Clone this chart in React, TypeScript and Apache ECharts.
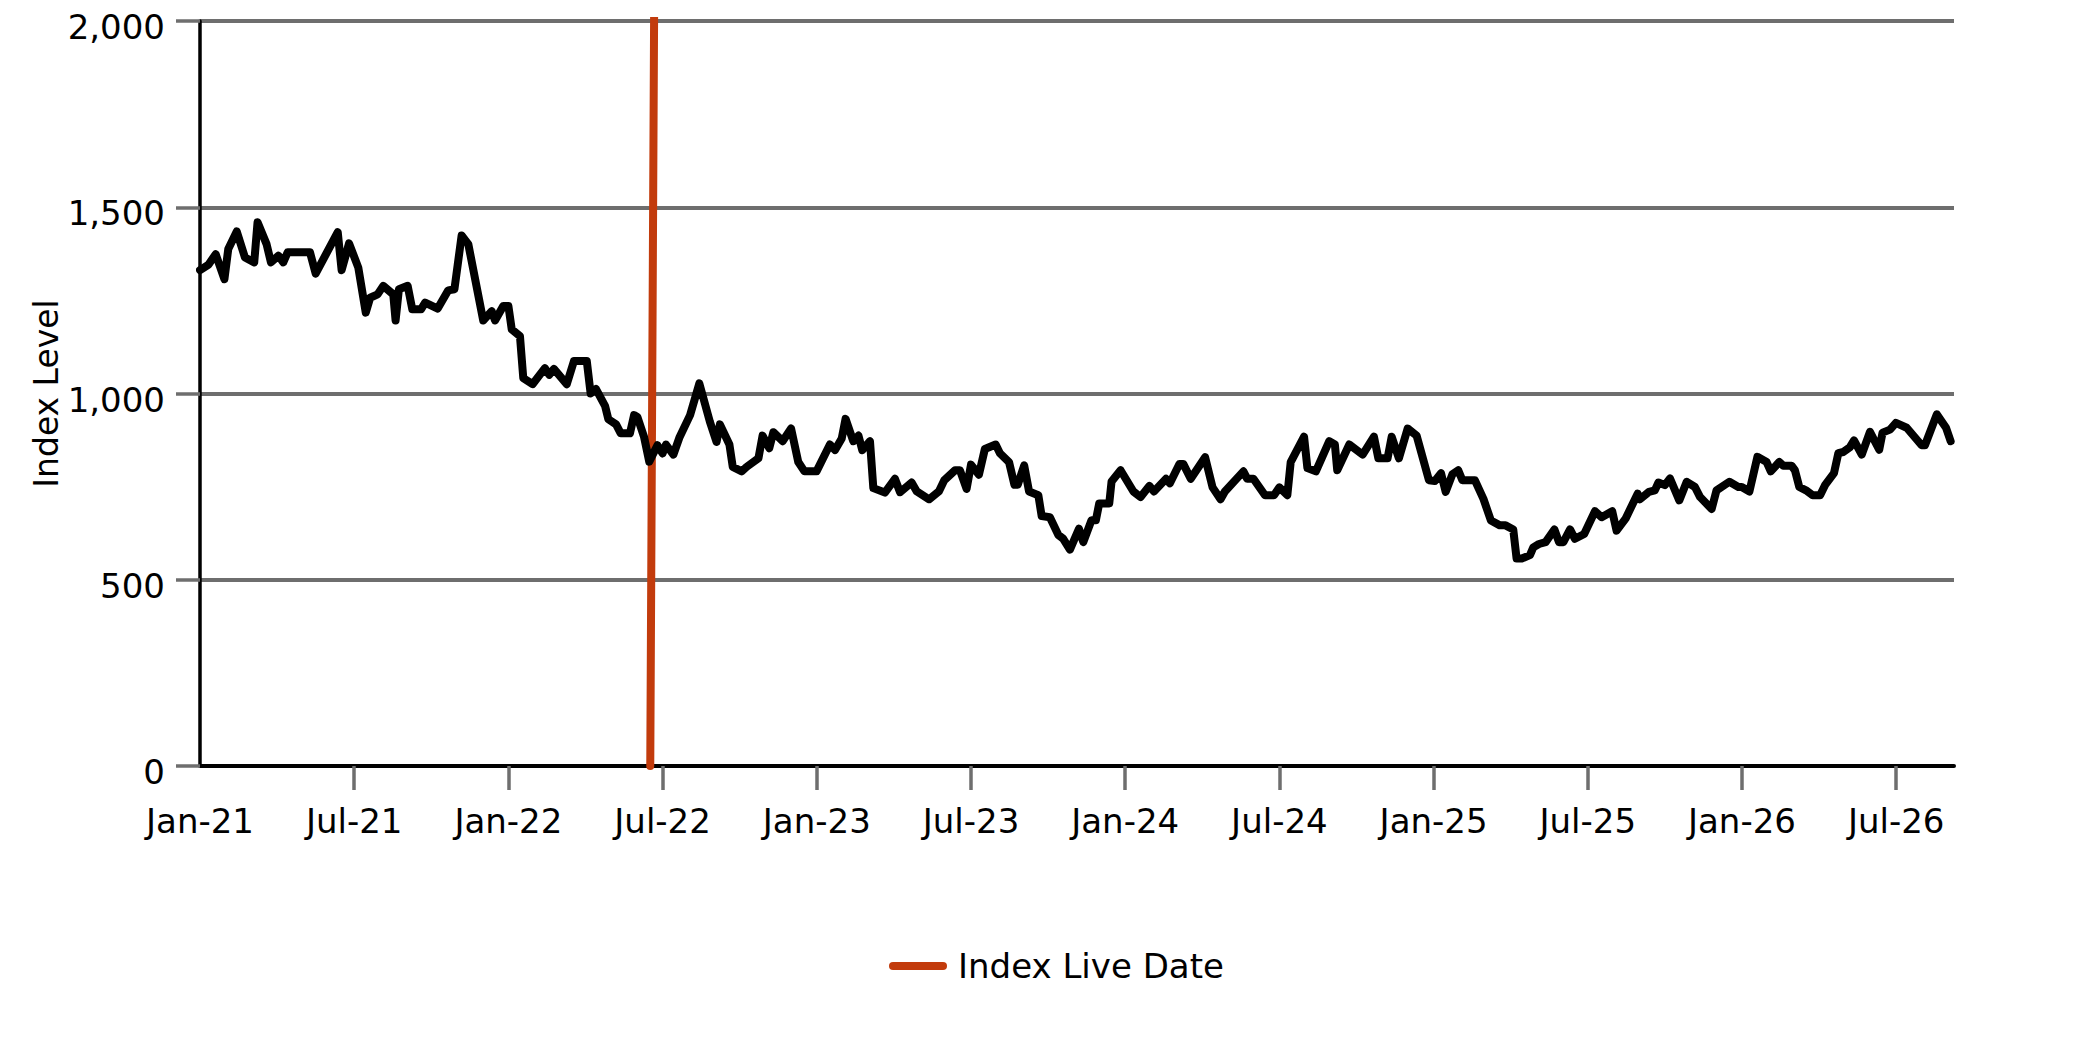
import React, { useEffect, useRef } from 'react';
import * as echarts from 'echarts';

// Months elapsed since Jan 2021 for each index observation
const indexMonths = [
  0.0, 0.32, 0.61, 0.95, 1.10, 1.43, 1.75, 2.11, 2.24, 2.59, 2.76, 3.05, 3.24, 3.41, 4.28, 4.50, 5.36, 5.51, 5.80, 6.16,
  6.45, 6.62, 6.91, 7.13, 7.52, 7.61, 7.74, 8.08, 8.26, 8.60, 8.76, 9.25, 9.66, 9.90, 10.18, 10.44, 11.02, 11.35,
  11.48, 11.80, 12.00, 12.13, 12.45, 12.58, 12.94, 13.42, 13.59, 13.77, 14.27, 14.55, 15.05, 15.20, 15.41, 15.76, 15.89,
  16.19, 16.37, 16.73, 16.89, 17.02, 17.28, 17.48, 17.80, 18.00, 18.13, 18.42, 18.65, 19.07, 19.43, 19.84, 20.10, 20.23,
  20.60, 20.73, 21.08, 21.27, 21.73, 21.89, 22.15, 22.31, 22.67, 23.00,
  23.28, 23.52, 23.99, 24.51, 24.71, 24.97, 25.12, 25.42, 25.62, 25.77, 26.07, 26.20, 26.65, 27.04, 27.24, 27.69, 27.89,
  28.37, 28.75, 28.96, 29.38, 29.57, 29.83, 30.00, 30.31, 30.54, 30.96, 31.13, 31.48, 31.69, 31.82, 32.07, 32.26, 32.62,
  32.75, 33.07, 33.40, 33.59, 33.85, 34.20, 34.37,
  34.69, 34.86, 34.99, 35.38, 35.47, 35.82, 36.32, 36.60, 36.94, 37.12, 37.59, 37.74, 38.11, 38.26, 38.55, 39.11, 39.40,
  39.71, 39.88, 40.60, 40.75, 40.99, 41.44, 41.79, 42.00, 42.31, 42.44, 42.96, 43.09, 43.42, 43.94, 44.16, 44.25, 44.72,
  45.24, 45.68, 45.85,
  46.21, 46.37, 46.65, 46.99, 47.34, 47.82, 48.05, 48.29, 48.47, 48.73, 48.96, 49.12, 49.61, 49.94, 50.23, 50.58, 50.80,
  51.10, 51.23, 51.43, 51.75, 51.88, 52.10, 52.36, 52.70, 52.88, 53.05, 53.31, 53.50, 53.86, 54.28, 54.54, 54.95, 55.12,
  55.47, 55.94, 56.03, 56.38, 56.61, 56.75, 57.00, 57.20,
  57.56, 57.85, 58.17, 58.37, 58.82, 59.01, 59.51, 59.86, 59.99, 60.29, 60.60, 60.96, 61.12, 61.45, 61.61, 61.93, 62.06,
  62.23, 62.49, 62.75, 63.04, 63.23, 63.58, 63.75, 63.94, 64.20, 64.36, 64.66, 64.98, 65.34, 65.47, 65.76, 65.99, 66.41,
  66.99, 67.12, 67.58, 67.94, 68.12,
];

const indexLevels = [
  1331, 1345, 1374, 1307, 1388, 1435, 1365, 1352, 1460, 1401, 1352, 1370, 1352, 1379, 1379, 1322, 1433, 1331, 1403, 1338,
  1217, 1257, 1266, 1289, 1266, 1196, 1280, 1289, 1226, 1226, 1244, 1228, 1277, 1280, 1424, 1401, 1196, 1221,
  1196, 1235, 1235, 1172, 1154, 1041, 1025, 1068, 1050, 1066, 1025, 1087, 1087, 1000, 1012, 967, 931,
  917, 893, 893, 942, 937, 883, 817, 861, 839, 863, 836, 881, 942, 1027, 924, 870, 917,
  863, 803, 791, 803, 826, 887, 853, 896, 872, 906,
  816, 791, 791, 863, 848, 879, 932, 872, 887, 848, 872, 746, 734, 771, 735, 761, 737,
  716, 737, 767, 794, 794, 744, 809, 782, 851, 863, 839, 816, 755, 755, 807, 737, 727,
  671, 668, 620, 610, 581, 637, 601,
  660, 660, 705, 705, 764, 794, 737, 722, 752, 737, 771, 759, 811, 811, 771, 829, 748,
  716, 737, 791, 771, 771, 727, 727, 748, 727, 816, 884, 800, 791, 872, 863, 794, 863,
  836, 884, 826,
  826, 884, 826, 906, 887, 767, 765, 786, 736, 783, 794, 767, 767, 717, 659, 646, 646,
  635, 557, 557, 566, 587, 596, 601, 635, 601, 601, 635, 610, 623, 684, 668, 684, 632,
  664, 731, 716, 736, 740, 761, 754, 772,
  713, 763, 749, 722, 690, 740, 763, 749, 749, 737, 830, 816, 791, 816, 806, 806, 794,
  749, 740, 727, 727, 754, 786, 840, 843, 856, 874, 836, 897, 849, 895, 903, 921, 908,
  861, 861, 944, 908, 872,
];

// Index live date marker line (months since Jan 2021, index level)
const liveDateMonths = [17.52, 17.67];
const liveDateLevels = [0, 2018];

const xTickValues = [0, 6, 12, 18, 24, 30, 36, 42, 48, 54, 60, 66];
const xTickLabels = ['Jan-21', 'Jul-21', 'Jan-22', 'Jul-22', 'Jan-23', 'Jul-23', 'Jan-24', 'Jul-24', 'Jan-25', 'Jul-25', 'Jan-26', 'Jul-26'];
const yTickLabels = ['0', '500', '1,000', '1,500', '2,000'];

const FONT = 'DejaVu Sans';
const ORANGE = '#C23B0C';
const GRID_GRAY = '#6e6e6e';

export default function App() {
  const ref = useRef<HTMLDivElement>(null);

  useEffect(() => {
    document.body.style.margin = '0';
    if (!ref.current) return;
    const chart = echarts.init(ref.current, undefined, { renderer: 'svg' });
    chart.setOption({
      animation: false,
      backgroundColor: '#ffffff',
      grid: { left: 200, right: 129, top: 21, bottom: 276, containLabel: false },
      legend: {
        left: 884,
        top: 944,
        itemWidth: 58,
        itemHeight: 8,
        data: [
          {
            name: 'Index Live Date',
            icon: 'path://M4 0H54A4 4 0 0 1 54 8H4A4 4 0 0 1 4 0Z',
            itemStyle: { color: ORANGE },
          },
        ],
        textStyle: { fontFamily: FONT, fontSize: 34, color: '#000', padding: [0, 0, 0, 6] },
      },
      xAxis: {
        type: 'value',
        min: 0,
        max: 68.25,
        interval: 6,
        axisLine: { show: true, onZero: false, lineStyle: { color: '#000', width: 4 } },
        axisTick: {
          show: true,
          length: 24,
          customValues: xTickValues.slice(1),
          lineStyle: { color: GRID_GRAY, width: 3.5 },
        },
        axisLabel: {
          customValues: xTickValues,
          margin: 38,
          fontFamily: FONT,
          fontSize: 34,
          color: '#000',
          formatter: (v: number) => xTickLabels[Math.round(v / 6)] ?? '',
        },
        splitLine: { show: false },
      },
      yAxis: {
        type: 'value',
        min: 0,
        max: 2000,
        interval: 500,
        name: 'Index Level',
        nameLocation: 'middle',
        nameGap: 137,
        nameMoveOverlap: false,
        nameRotate: 90,
        nameTextStyle: { fontFamily: FONT, fontSize: 33, color: '#000' },
        axisLine: { show: true, onZero: false, lineStyle: { color: '#000', width: 3.5 } },
        axisTick: { show: true, length: 24, lineStyle: { color: GRID_GRAY, width: 3.5 } },
        axisLabel: {
          margin: 35,
          fontFamily: FONT,
          fontSize: 34,
          color: '#000',
          formatter: (v: number) => `{a|${yTickLabels[Math.round(v / 500)] ?? ''}}`,
          rich: {
            a: { fontFamily: FONT, fontSize: 34, color: '#000', padding: [12, 0, 0, 0] },
          },
        },
        splitLine: { show: true, lineStyle: { color: GRID_GRAY, width: 4 } },
      },
      series: [
        {
          name: 'Index Live Date',
          type: 'line',
          data: liveDateMonths.map((m, i) => [m, liveDateLevels[i]]),
          symbol: 'none',
          itemStyle: { color: ORANGE },
          lineStyle: { color: ORANGE, width: 8, cap: 'round' },
          z: 3,
        },
        {
          name: 'Index',
          type: 'line',
          data: indexMonths.map((m, i) => [m, indexLevels[i]]),
          symbol: 'none',
          itemStyle: { color: '#000' },
          lineStyle: { color: '#000', width: 8, cap: 'round', join: 'round' },
          z: 4,
        },
      ],
    });
    return () => chart.dispose();
  }, []);

  return <div ref={ref} style={{ width: 2083, height: 1042 }} />;
}
